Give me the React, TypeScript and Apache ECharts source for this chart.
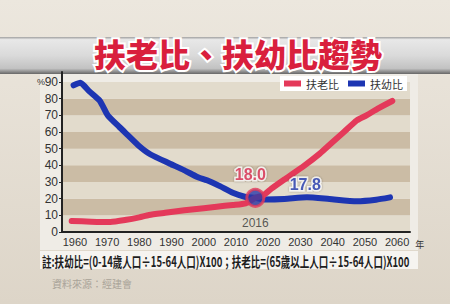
import React, { useEffect, useRef } from "react";
import * as echarts from "echarts";

const titleText = "扶老比、扶幼比趨勢";
const seriesNames = ["扶老比", "扶幼比"];
const yTicks = [0, 10, 20, 30, 40, 50, 60, 70, 80, 90];
const xTicks = [1960, 1970, 1980, 1990, 2000, 2010, 2020, 2030, 2040, 2050, 2060];

// 扶老比 (elderly dependency ratio)
const elderYears = [1959, 1965, 1971, 1976, 1980, 1983, 1988, 1994, 2000, 2004, 2009, 2013, 2016, 2018.5, 2021, 2025, 2031, 2036, 2040, 2043.5, 2047.5, 2050.5, 2054, 2058.5];
const elderValues = [6.6, 6.2, 6.0, 7.3, 8.8, 10.2, 11.5, 13.0, 14.3, 15.2, 16.2, 17.2, 20.5, 22.0, 26.0, 31.5, 39.5, 47.0, 54.0, 60.0, 67.0, 70.0, 74.0, 78.6];

// 扶幼比 (youth dependency ratio)
const youthYears = [1959.6, 1961.7, 1964.4, 1967.6, 1968.8, 1970.2, 1973.8, 1976.5, 1980, 1983.5, 1989.5, 1994, 1998, 2001, 2005, 2009, 2013, 2016, 2019, 2025, 2032, 2039, 2047.5, 2053.5, 2057.8];
const youthValues = [88.0, 89.5, 84.5, 79.0, 75.0, 70.0, 63.0, 58.0, 51.5, 46.5, 41.0, 37.0, 33.0, 31.0, 27.5, 23.5, 21.0, 20.5, 19.5, 19.8, 20.8, 19.8, 18.5, 19.4, 20.8];

const markerYear = 2016;
const markerValue = 20.5;
const elderLabel = "18.0";
const youthLabel = "17.8";
const youthLabelYear = 2031.5;
const noteText = "註:扶幼比=(0-14歲人口÷15-64人口)X100；扶老比=(65歲以上人口÷15-64人口)X100";
const sourceText = "資料來源：經建會";

const RED = "#e4395a";
const BLUE = "#1d35b2";

export default function App() {
  const ref = useRef<HTMLDivElement>(null);
  useEffect(() => {
    document.body.style.margin = "0";
    const chart = echarts.init(ref.current!, undefined, { renderer: "svg" });
    const elderData = elderYears.map((y, i) => [y, elderValues[i]]);
    const youthData = youthYears.map((y, i) => [y, youthValues[i]]);
    const lineFont = "'Liberation Sans', Arial, sans-serif";
    const cjk = "'Noto Sans CJK TC', 'Noto Sans', sans-serif";
    chart.setOption({
      animation: false,
      backgroundColor: {
        type: "linear", x: 0, y: 0, x2: 0, y2: 1,
        colorStops: [
          { offset: 0, color: "#ece7de" },
          { offset: 1, color: "#ddd5c8" },
        ],
      },
      graphic: [
        {
          type: "rect", z: -10, silent: true,
          shape: { x: -20, y: 37, width: 490, height: 37, r: 14 },
          style: {
            fill: {
              type: "linear", x: 0, y: 0, x2: 0, y2: 1,
              colorStops: [
                { offset: 0, color: "#a0a0a0" },
                { offset: 0.07, color: "#e8e8e8" },
                { offset: 0.5, color: "#dadada" },
                { offset: 0.85, color: "#c2c2c2" },
                { offset: 0.94, color: "#8c8c8c" },
                { offset: 1, color: "#666666" },
              ],
            },
          },
        },
        {
          type: "rect", z: -9, silent: true,
          shape: { x: 40, y: 74, width: 378, height: 176 },
          style: { fill: "#efece6" },
        },
        {
          type: "rect", z: -9, silent: true,
          shape: { x: 40, y: 251, width: 378, height: 18 },
          style: { fill: "#f6f4f0" },
        },
        {
          type: "text", z: 10,
          x: 238, y: 53,
          style: {
            text: titleText,
            textAlign: "center", textVerticalAlign: "middle",
            font: `900 32px ${cjk}`,
            fill: "#d91f3d",
            stroke: "#ffffff", lineWidth: 4,
            shadowColor: "rgba(0,0,0,0.55)", shadowBlur: 3, shadowOffsetY: 2,
          },
        },
        {
          type: "text", z: 10,
          x: 42, y: 261, scaleX: 0.68, scaleY: 1,
          style: {
            text: noteText,
            textAlign: "left", textVerticalAlign: "middle",
            font: `bold 14px ${cjk}`,
            fill: "#1e1e1e",
          },
        },
        {
          type: "text", z: 10,
          x: 52, y: 283,
          style: {
            text: sourceText,
            textAlign: "left", textVerticalAlign: "middle",
            font: `10px ${cjk}`,
            fill: "#a9a398",
          },
        },
        {
          type: "text", z: 10,
          x: 37, y: 82,
          style: {
            text: "%",
            textAlign: "left", textVerticalAlign: "middle",
            font: `9px ${lineFont}`,
            fill: "#333",
          },
        },
      ],
      legend: {
        data: seriesNames,
        right: 43, top: 76,
        backgroundColor: "#ffffff",
        padding: [1, 4, 1, 4],
        itemWidth: 17, itemHeight: 6, itemGap: 9,
        icon: "rect",
        textStyle: { fontSize: 11, color: "#333", fontFamily: cjk, lineHeight: 13 },
      },
      grid: { left: 62, right: 40, top: 72, bottom: 72 },
      xAxis: {
        type: "value",
        min: 1956, max: 2064, interval: 10,
        name: "年",
        nameLocation: "end", nameGap: 2,
        nameTextStyle: { fontSize: 9, color: "#333", fontFamily: cjk, verticalAlign: "top", padding: [8, 0, 0, 0] },
        axisLine: { show: true, lineStyle: { color: "#222", width: 2 } },
        axisTick: { show: false },
        splitLine: { show: false },
        axisLabel: {
          customValues: xTicks,
          formatter: (v: number) => String(v),
          fontSize: 11, color: "#333", fontFamily: lineFont, margin: 4,
        },
      },
      yAxis: {
        type: "value",
        min: 0, max: 96, interval: 10,
        axisLine: { show: true, lineStyle: { color: "#222", width: 2 } },
        axisTick: { show: true, length: 3, customValues: yTicks, lineStyle: { color: "#222", width: 1 } },
        splitLine: { show: false },
        splitArea: { show: true, areaStyle: { color: ["#e2dbcc", "#cbbca5"] } },
        axisLabel: {
          customValues: yTicks,
          formatter: (v: number) => String(v),
          fontSize: 12, color: "#333", fontFamily: lineFont, margin: 4,
        },
      },
      series: [
        {
          name: seriesNames[1], type: "line", data: youthData,
          showSymbol: false, symbol: "none", smooth: 0.2,
          lineStyle: { color: BLUE, width: 6, cap: "round", join: "round" },
          itemStyle: { color: BLUE },
          z: 3,
        },
        {
          name: seriesNames[0], type: "line", data: elderData,
          showSymbol: false, symbol: "none", smooth: 0.2,
          lineStyle: { color: RED, width: 6, cap: "round", join: "round" },
          itemStyle: { color: RED },
          z: 4,
        },
        {
          type: "scatter", z: 6,
          data: [
            {
              value: [markerYear, markerValue],
              symbolSize: 17,
              itemStyle: { color: "#2a3aa8", borderColor: RED, borderWidth: 3 },
              label: {
                show: true,
                formatter: elderLabel,
                position: "inside",
                offset: [-5, -23],
                fontSize: 16, fontWeight: "bold", fontFamily: lineFont,
                color: "#d6284a", textBorderColor: "#fff", textBorderWidth: 3,
                textShadowColor: "rgba(0,0,0,0.4)", textShadowBlur: 2,
              },
            },
            {
              value: [markerYear, markerValue],
              symbolSize: 0,
              itemStyle: { color: "transparent" },
              label: {
                show: true,
                formatter: String(markerYear),
                position: "inside",
                offset: [0, 25],
                fontSize: 12, fontFamily: lineFont, color: "#333",
              },
            },
            {
              value: [youthLabelYear, markerValue],
              symbolSize: 0,
              itemStyle: { color: "transparent" },
              label: {
                show: true,
                formatter: youthLabel,
                position: "inside",
                offset: [0, -13],
                fontSize: 16, fontWeight: "bold", fontFamily: lineFont,
                color: "#1f34a8", textBorderColor: "#fff", textBorderWidth: 3,
                textShadowColor: "rgba(0,0,0,0.4)", textShadowBlur: 2,
              },
            },
          ],
        },
      ],
    });
    return () => chart.dispose();
  }, []);
  return <div ref={ref} style={{ position: "absolute", left: 0, top: 0, width: 450, height: 304 }} />;
}
